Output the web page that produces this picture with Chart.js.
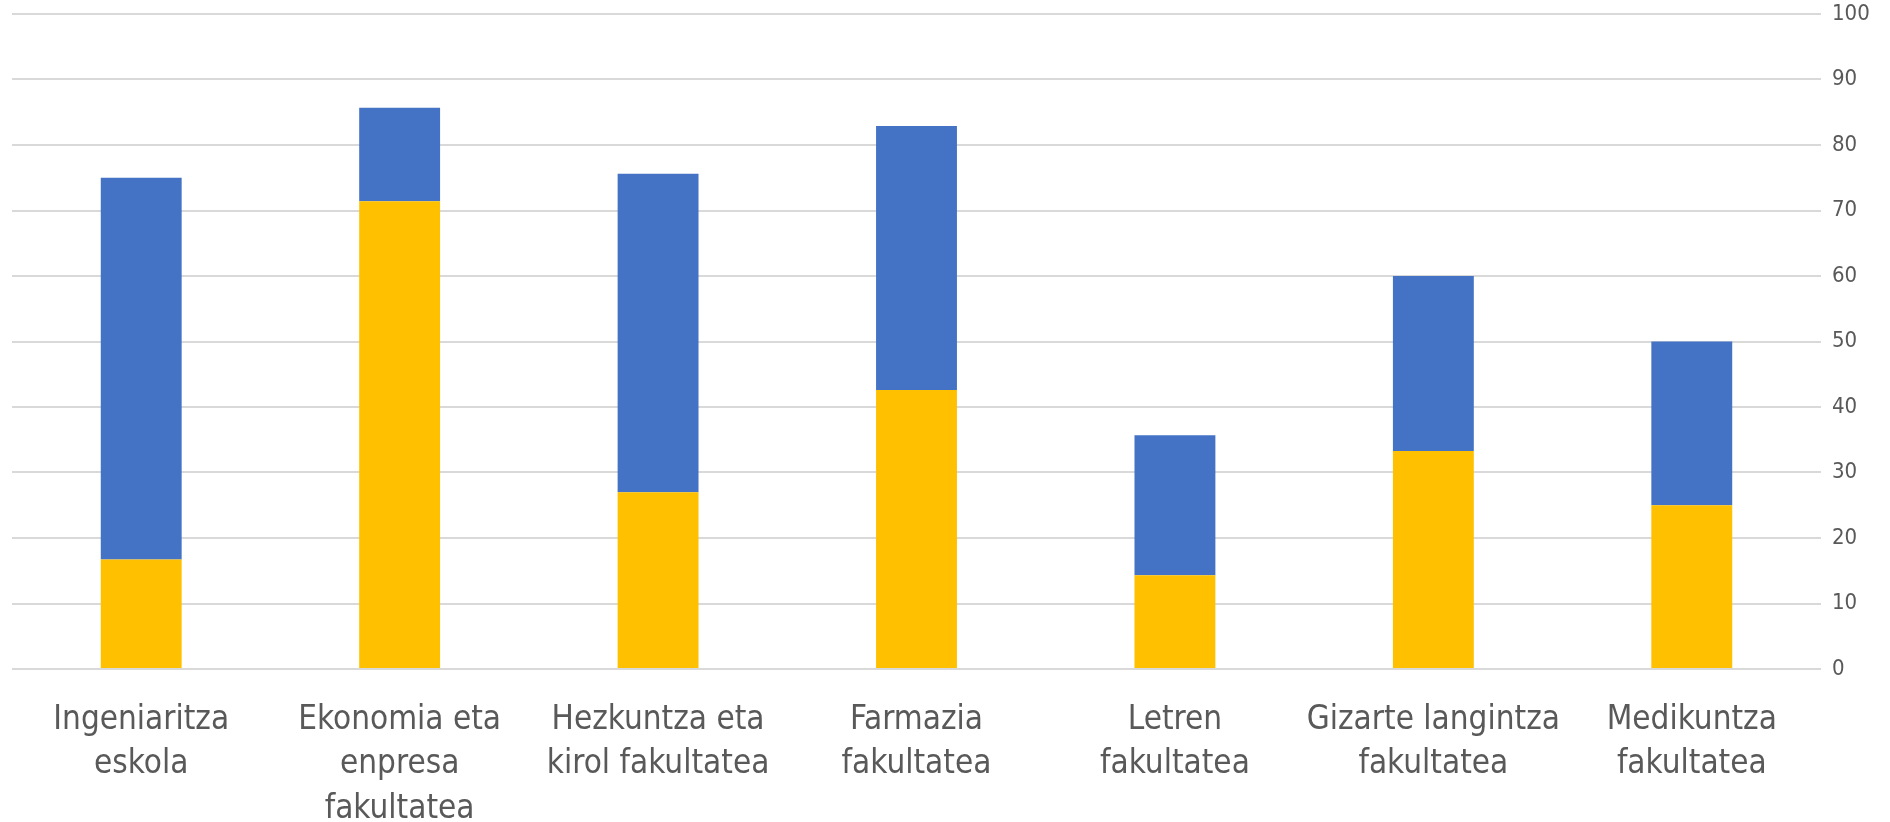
<!DOCTYPE html>
<html>
<head>
<meta charset="utf-8">
<script src="https://cdn.jsdelivr.net/npm/chart.js@4/dist/chart.umd.min.js"></script>
<style>
    html, body { margin: 0; padding: 0; background: #ffffff; }
    #wrap { width: 1890px; height: 822px; }
</style>
</head>
<body>
<div id="wrap"><canvas id="barChart"></canvas></div>
<script>
// Categories (multi-line labels as in the original)
const categories = [
    ['Ingeniaritza', 'eskola'],
    ['Ekonomia eta', 'enpresa', 'fakultatea'],
    ['Hezkuntza eta', 'kirol fakultatea'],
    ['Farmazia', 'fakultatea'],
    ['Letren', 'fakultatea'],
    ['Gizarte langintza', 'fakultatea'],
    ['Medikuntza', 'fakultatea']
];

// Stacked values, bottom (yellow) and top (blue)
const yellowValues = [16.7, 71.4, 27.0, 42.6, 14.3, 33.3, 25.0];
const blueValues = [58.3, 14.3, 48.6, 40.3, 21.4, 26.7, 25.0];

// Right axis
const yTicks = [0, 10, 20, 30, 40, 50, 60, 70, 80, 90, 100];

const fontFamily = "'Liberation Sans Narrow', 'DejaVu Sans Condensed', 'Liberation Sans', sans-serif";

document.addEventListener('DOMContentLoaded', function() {
    const ctx = document.getElementById('barChart').getContext('2d');
    new Chart(ctx, {
        type: 'bar',
        data: {
            labels: categories,
            datasets: [
                {
                    label: 'Yellow',
                    data: yellowValues,
                    backgroundColor: '#FFC000',
                    borderWidth: 0
                },
                {
                    label: 'Blue',
                    data: blueValues,
                    backgroundColor: '#4472C4',
                    borderWidth: 0
                }
            ]
        },
        options: {
            responsive: true,
            maintainAspectRatio: false,
            animation: false,
            layout: {
                padding: { left: 12, top: 14, right: 0, bottom: 0 }
            },
            datasets: {
                bar: {
                    categoryPercentage: 1,
                    barPercentage: 0.313
                }
            },
            plugins: {
                legend: { display: false },
                tooltip: { enabled: false }
            },
            scales: {
                x: {
                    stacked: true,
                    grid: { display: false },
                    border: { display: false },
                    ticks: {
                        autoSkip: false,
                        maxRotation: 0,
                        minRotation: 0,
                        padding: 21,
                        color: '#595959',
                        font: { family: fontFamily, size: 33, lineHeight: 1.35 }
                    },
                    afterFit: function(scale) { scale.height = 153; }
                },
                y: {
                    stacked: true,
                    position: 'right',
                    min: 0,
                    max: 100,
                    afterBuildTicks: function(scale) {
                        scale.ticks = yTicks.map(v => ({ value: v }));
                    },
                    grid: {
                        color: '#D9D9D9',
                        lineWidth: 2,
                        drawTicks: true,
                        tickLength: 11,
                        tickColor: 'rgba(0,0,0,0)'
                    },
                    border: { display: false },
                    ticks: {
                        padding: 0,
                        color: '#595959',
                        font: { family: fontFamily, size: 22, lineHeight: 1.2 }
                    },
                    afterFit: function(scale) { scale.width = 69; }
                }
            }
        }
    });
});
</script>
</body>
</html>
